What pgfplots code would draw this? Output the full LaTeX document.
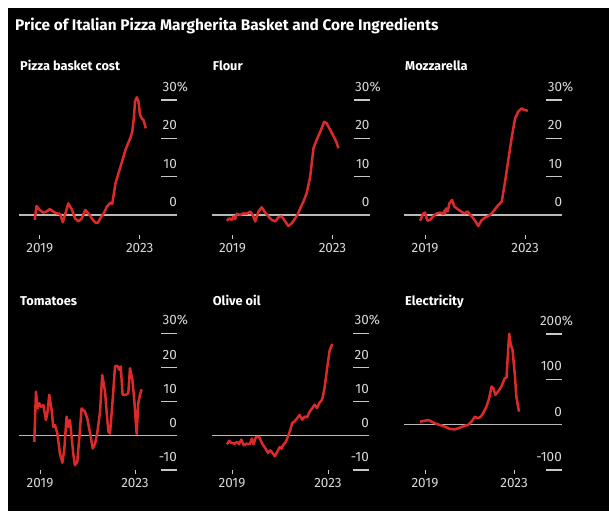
\documentclass[border=0pt]{standalone}
\usepackage{fontspec}
\setmainfont{Fira Sans}
\usepackage{pgfplots}
\pgfplotsset{compat=1.18}
\definecolor{redline}{RGB}{220,42,42}
\definecolor{tickgray}{RGB}{200,200,200}
\definecolor{labgray}{RGB}{215,215,215}
\definecolor{zerogray}{RGB}{185,185,185}
\tikzset{
 curve/.style={redline, line width=2.5pt, line join=round},
 zline/.style={zerogray, line width=1.3pt},
 ptitle/.style={anchor=base west, inner sep=0pt, text=white, font=\fontsize{12.8}{12.8}\selectfont\bfseries},
}
\pgfplotsset{
 panel/.style={
  scale only axis, width=158pt,
  axis x line*=bottom, axis y line*=right,
  axis line style={draw=none},
  tick align=inside,
  major tick length=16pt,
  ytick style={draw=tickgray, line width=1.3pt},
  xtick style={draw=tickgray, line width=0.9pt, /pgfplots/major tick length=4pt},
  yticklabel style={anchor=south east, inner sep=0pt, yshift=8pt, font=\fontsize{13.5}{13.5}\selectfont, text=labgray},
  xticklabel style={anchor=north, inner sep=0pt, yshift=-4.5pt, font=\fontsize{13.5}{13.5}\selectfont, text=labgray},
  xtick={2019,2023}, xticklabels={2019,2023},
  minor tick num=0,
  clip=false,
 },
 rowone/.style={panel, ymin=-6.29, ymax=30, height=139pt, xmin=2018.17, xmax=2024.49,
   ytick={0,10,20,30}, yticklabels={0,10,20,30\rlap{\%}}},
 rowtwo/.style={panel, ymin=-11.2, ymax=30, height=140.7pt,
   ytick={-10,0,10,20,30}, yticklabels={-10,0,10,20,30\rlap{\%}}},
}
\begin{document}
\begin{tikzpicture}
\fill[white] (0pt,0pt) rectangle (609pt,-511pt);
\fill[black] (8pt,-8pt) rectangle (609pt,-511pt);
\node[anchor=base west, inner sep=0pt, text=white, font=\fontsize{15.4}{15.4}\selectfont\bfseries] at (15pt,-30.5pt) {Price of Italian Pizza Margherita Basket and Core Ingredients};
\node[ptitle] at (20pt,-70pt) {Pizza basket cost};
\node[ptitle] at (212.7pt,-70pt) {Flour};
\node[ptitle] at (405pt,-70pt) {Mozzarella};
\node[ptitle] at (20pt,-305pt) {Tomatoes};
\node[ptitle] at (212.7pt,-305pt) {Olive oil};
\node[ptitle] at (405pt,-305pt) {Electricity};

% Pizza basket cost
\begin{axis}[rowone, at={(19pt,-100pt)}, anchor=north west]
\draw[zline] (axis cs:2018.17,0) -- (axis cs:2024.49,0);
\addplot[curve, no marks] coordinates {
(2018.80,-1.3) (2018.87,2.3) (2019.00,1.3) (2019.13,0.6) (2019.27,0.9) (2019.40,1.5)
(2019.54,0.9) (2019.67,0.4) (2019.81,0.3) (2019.92,-1.9) (2020.01,0.0) (2020.14,3.0)
(2020.28,1.5) (2020.41,-0.9) (2020.55,-1.7) (2020.68,-0.9) (2020.82,1.3) (2020.95,0.4)
(2021.08,-0.9) (2021.22,-2.0) (2021.33,-2.0) (2021.42,-0.9) (2021.56,0.4) (2021.69,2.2)
(2021.83,3.2) (2021.90,2.9) (2022.03,8.3) (2022.23,12.6) (2022.43,17.0) (2022.64,20.4)
(2022.70,21.7) (2022.77,25.7) (2022.81,29.6) (2022.88,30.7) (2022.95,29.6) (2023.01,26.1)
(2023.08,25.2) (2023.15,24.8) (2023.24,22.6)
};
\end{axis}

% Flour
\begin{axis}[rowone, at={(211.7pt,-100pt)}, anchor=north west]
\draw[zline] (axis cs:2018.17,0) -- (axis cs:2024.49,0);
\addplot[curve, no marks] coordinates {
(2018.77,-1.5) (2018.88,-0.9) (2018.97,-1.3) (2019.04,-0.4) (2019.11,-1.1) (2019.17,0.3)
(2019.31,0.0) (2019.44,0.4) (2019.57,0.3) (2019.71,0.9) (2019.81,0.0) (2019.91,-1.7)
(2020.04,0.9) (2020.17,2.0) (2020.31,0.6) (2020.44,-0.4) (2020.57,-1.3) (2020.71,-1.7)
(2020.84,-0.6) (2020.97,-0.4) (2021.11,-1.7) (2021.24,-2.9) (2021.37,-2.2) (2021.51,-0.9)
(2021.60,0.0) (2021.71,1.7) (2021.84,3.5) (2021.97,5.7) (2022.11,10.0) (2022.24,17.4)
(2022.37,19.6) (2022.51,21.7) (2022.67,24.3) (2022.77,23.9) (2022.91,22.2) (2023.04,20.6)
(2023.15,19.1) (2023.24,17.4)
};
\end{axis}

% Mozzarella
\begin{axis}[rowone, at={(404.3pt,-100pt)}, anchor=north west]
\draw[zline] (axis cs:2018.17,0) -- (axis cs:2024.49,0);
\addplot[curve, no marks] coordinates {
(2018.80,-1.5) (2018.93,0.4) (2019.00,0.6) (2019.09,-1.5) (2019.20,-1.3) (2019.33,-0.3)
(2019.47,0.4) (2019.60,0.6) (2019.73,0.3) (2019.77,1.1) (2019.80,0.4) (2019.84,1.7)
(2019.91,0.9) (2019.97,3.0) (2020.08,3.9) (2020.17,2.2) (2020.31,1.5) (2020.44,0.9)
(2020.57,0.4) (2020.71,0.9) (2020.80,0.0) (2020.87,-0.4) (2021.00,-1.5) (2021.13,-2.9)
(2021.27,-1.3) (2021.40,-0.7) (2021.53,-0.3) (2021.67,0.4) (2021.80,1.5) (2021.93,2.6)
(2022.07,3.5) (2022.20,8.7) (2022.33,14.3) (2022.47,20.4) (2022.60,25.2) (2022.73,27.0)
(2022.87,27.8) (2022.97,27.4) (2023.11,27.2)
};
\end{axis}

% Tomatoes
\begin{axis}[rowtwo, xmin=2018.116, xmax=2024.77, at={(19pt,-333.3pt)}, anchor=north west]
\draw[zline] (axis cs:2018.116,0) -- (axis cs:2024.77,0);
\addplot[curve, no marks] coordinates {
(2018.76,-1.8) (2018.83,12.9) (2018.90,8.0) (2018.97,9.5) (2019.04,8.5) (2019.14,9.0)
(2019.25,4.6) (2019.31,6.6) (2019.39,12.0) (2019.49,7.5) (2019.56,2.6) (2019.63,3.1)
(2019.73,0.7) (2019.84,-5.2) (2019.94,-7.9) (2020.02,-4.2) (2020.12,5.6) (2020.19,2.6)
(2020.26,4.6) (2020.33,-0.3) (2020.40,-5.2) (2020.47,-8.6) (2020.57,-7.6) (2020.66,-0.3)
(2020.75,8.0) (2020.89,7.1) (2020.99,5.1) (2021.11,0.7) (2021.22,-3.7) (2021.32,-2.3)
(2021.41,0.7) (2021.53,7.1) (2021.62,17.8) (2021.74,12.9) (2021.81,6.6) (2021.88,1.2)
(2021.95,0.7) (2022.06,10.5) (2022.16,20.3) (2022.26,20.5) (2022.34,19.3) (2022.40,20.3)
(2022.48,12.0) (2022.62,12.0) (2022.72,12.5) (2022.79,19.8) (2022.89,16.4) (2022.97,10.5)
(2023.07,0.5) (2023.14,9.5) (2023.21,12.0) (2023.28,13.6)
};
\end{axis}

% Olive oil
\begin{axis}[rowtwo, xmin=2018.167, xmax=2024.71, at={(212pt,-333.3pt)}, anchor=north west, width=157pt]
\draw[zline] (axis cs:2018.167,0) -- (axis cs:2024.71,0);
\addplot[curve, no marks] coordinates {
(2018.79,-2.5) (2018.88,-1.5) (2018.97,-2.1) (2019.11,-2.3) (2019.21,-1.8) (2019.29,-2.5)
(2019.39,-1.1) (2019.49,-2.8) (2019.60,-2.3) (2019.74,-2.5) (2019.83,-0.8) (2019.90,-2.5)
(2019.99,-0.5) (2020.13,-0.3) (2020.26,-2.3) (2020.40,-3.8) (2020.50,-5.0) (2020.60,-4.3)
(2020.71,-5.2) (2020.78,-6.0) (2020.88,-4.8) (2020.99,-3.3) (2021.06,-3.8) (2021.13,-2.8)
(2021.24,-1.8) (2021.33,-0.3) (2021.43,1.7) (2021.51,3.7) (2021.61,4.2) (2021.71,5.1)
(2021.82,6.1) (2021.93,4.7) (2022.03,5.6) (2022.13,5.4) (2022.24,7.1) (2022.35,8.1)
(2022.44,9.1) (2022.54,8.1) (2022.64,9.6) (2022.76,10.6) (2022.86,14.1) (2022.96,19.5)
(2023.07,25.0) (2023.18,26.9)
};
\end{axis}

% Electricity
\begin{axis}[panel, xmin=2018.06, xmax=2025.15, ymin=-108.8, ymax=200, height=140pt,
  ytick={-100,0,100,200}, yticklabels={-100,0,100,200\rlap{\%}},
  at={(404pt,-334pt)}, anchor=north west]
\draw[zline] (axis cs:2018.06,0) -- (axis cs:2025.15,0);
\addplot[curve, no marks] coordinates {
(2018.78,6.6) (2018.93,8.1) (2019.15,10.3) (2019.30,6.6) (2019.45,3.0) (2019.67,-0.7)
(2019.90,-4.4) (2020.12,-9.6) (2020.34,-10.3) (2020.57,-6.6) (2020.79,-2.2) (2020.94,-0.7)
(2021.09,6.6) (2021.24,17.7) (2021.36,14.0) (2021.51,17.7) (2021.61,25.1) (2021.76,39.9)
(2021.88,58.3) (2021.99,84.1) (2022.07,80.4) (2022.16,65.7) (2022.28,73.1) (2022.43,84.1)
(2022.58,102.6) (2022.66,104.1) (2022.73,161.6) (2022.78,200.7) (2022.85,176.4) (2022.93,165.3)
(2023.04,106.3) (2023.10,62.0) (2023.22,28.8)
};
\end{axis}
\end{tikzpicture}
\end{document}
